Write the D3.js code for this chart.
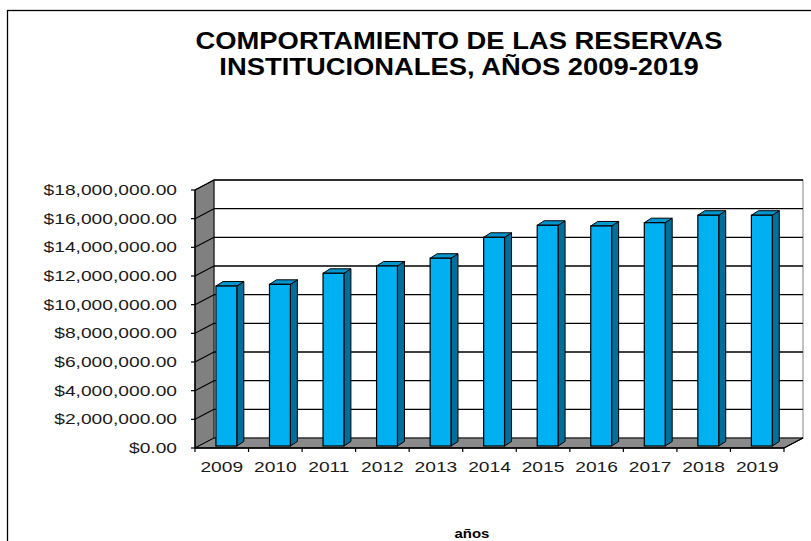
<!DOCTYPE html>
<html><head><meta charset="utf-8">
<script src="https://cdn.jsdelivr.net/npm/d3@7"></script>
<style>html,body{margin:0;padding:0;background:#fff;}svg{display:block;font-family:"Liberation Sans",Arial,sans-serif;}</style>
</head><body>
<script>
const years = ["2009","2010","2011","2012","2013","2014","2015","2016","2017","2018","2019"];
const reservas = [11160000, 11280000, 12050000, 12560000, 13100000, 14560000, 15400000, 15350000, 15580000, 16100000, 16100000];
const yTicks = [0, 2000000, 4000000, 6000000, 8000000, 10000000, 12000000, 14000000, 16000000, 18000000];
const titleLines = ["COMPORTAMIENTO DE LAS RESERVAS", "INSTITUCIONALES, AÑOS 2009-2019"];
const xTitle = "años";

const W = 811, H = 541;
const svg = d3.select("body").append("svg").attr("width", W).attr("height", H);
svg.append("rect").attr("width", W).attr("height", H).attr("fill", "#fff");
svg.append("rect").attr("x", 7.5).attr("y", 10.5).attr("width", 900).attr("height", 900)
  .attr("fill", "none").attr("stroke", "#000").attr("stroke-width", 1.3);

const x = d3.scaleBand().domain(years).range([195, 784]).padding(0);
const y = d3.scaleLinear().domain([0, 18000000]).range([448, 190]);
const DX = 19, DY = -10; // depth offset
const x0 = 195, x1 = 784;

// back wall
svg.append("rect").attr("x", x0 + DX).attr("y", y(18000000) + DY).attr("width", x1 - x0).attr("height", y(0) - y(18000000))
  .attr("fill", "#fff").attr("stroke", "#9a9a9a").attr("stroke-width", 1.2);
// left wall
svg.append("polygon").attr("points", [[x0, y(0)], [x0 + DX, y(0) + DY], [x0 + DX, y(18000000) + DY], [x0, y(18000000)]].map(p => p.join(",")).join(" "))
  .attr("fill", "#808080").attr("stroke", "#000").attr("stroke-width", 1);
// floor
svg.append("polygon").attr("points", [[x0, y(0)], [x1, y(0)], [x1 + DX, y(0) + DY], [x0 + DX, y(0) + DY]].map(p => p.join(",")).join(" "))
  .attr("fill", "#8a8a8a").attr("stroke", "#000").attr("stroke-width", 1);

// gridlines on back wall and left wall
yTicks.forEach(t => {
  if (t > 0) {
    svg.append("line").attr("x1", x0 + DX).attr("x2", x1 + DX).attr("y1", y(t) + DY).attr("y2", y(t) + DY)
      .attr("stroke", "#000").attr("stroke-width", 1.4);
    svg.append("line").attr("x1", x0).attr("x2", x0 + DX).attr("y1", y(t)).attr("y2", y(t) + DY)
      .attr("stroke", "#000").attr("stroke-width", 1.2);
  }
});

// axes
svg.append("line").attr("x1", x0).attr("x2", x0).attr("y1", y(18000000)).attr("y2", y(0)).attr("stroke", "#000").attr("stroke-width", 1.3);
svg.append("line").attr("x1", x0).attr("x2", x1).attr("y1", y(0)).attr("y2", y(0)).attr("stroke", "#000").attr("stroke-width", 1.3);
svg.append("line").attr("x1", x1).attr("x2", x1 + DX).attr("y1", y(0)).attr("y2", y(0) + DY).attr("stroke", "#000").attr("stroke-width", 1.2);
yTicks.forEach(t => {
  svg.append("line").attr("x1", x0 - 4).attr("x2", x0).attr("y1", y(t)).attr("y2", y(t)).attr("stroke", "#000").attr("stroke-width", 1.2);
});
years.concat(["end"]).forEach((c, i) => {
  const xx = i < years.length ? x(c) : x1;
  svg.append("line").attr("x1", xx).attr("x2", xx).attr("y1", y(0)).attr("y2", y(0) + 4).attr("stroke", "#000").attr("stroke-width", 1.2);
});

// bars
const bw = x.bandwidth();
const fx = DX * 0.2, fy = DY * 0.2;
const bdx = 7, bdy = -4.5;
const barW = bw * 0.39, barOff = bw * 0.32;
const bars = svg.append("g").selectAll("g").data(years.map((c, i) => ({c, v: reservas[i]}))).join("g");
bars.each(function(d) {
  const g = d3.select(this);
  const L = x(d.c) + barOff + fx, R = L + barW;
  const T = y(d.v) + fy, B = y(0) + fy;
  g.append("polygon").attr("points", [[R, B], [R + bdx, B + bdy], [R + bdx, T + bdy], [R, T]].map(p => p.join(",")).join(" "))
    .attr("fill", "#006E9A").attr("stroke", "#000").attr("stroke-width", 1).attr("stroke-linejoin", "round");
  g.append("polygon").attr("points", [[L, T], [R, T], [R + bdx, T + bdy], [L + bdx, T + bdy]].map(p => p.join(",")).join(" "))
    .attr("fill", "#0096CF").attr("stroke", "#000").attr("stroke-width", 1).attr("stroke-linejoin", "round");
  g.append("rect").attr("x", L).attr("y", T).attr("width", barW).attr("height", B - T)
    .attr("fill", "#00B0F0").attr("stroke", "#000").attr("stroke-width", 1.2);
});

// y labels
const fmt = d3.format(",.2f");
yTicks.forEach(t => {
  svg.append("text").attr("transform", `translate(177,${y(t) + 5}) scale(1.28,1)`)
    .attr("text-anchor", "end").attr("font-size", 15).attr("fill", "#1a1a1a").text("$" + fmt(t));
});
// x labels
years.forEach(c => {
  svg.append("text").attr("transform", `translate(${x(c) + bw / 2},472) scale(1.28,1)`)
    .attr("text-anchor", "middle").attr("font-size", 15).attr("fill", "#1a1a1a").text(c);
});
// title
titleLines.forEach((s, i) => {
  svg.append("text").attr("transform", `translate(459,${49 + i * 26}) scale(1.19,1)`)
    .attr("text-anchor", "middle").attr("font-size", 23).attr("font-weight", "bold").attr("fill", "#000").text(s);
});
svg.append("text").attr("transform", `translate(472,538) scale(1.15,1)`)
  .attr("text-anchor", "middle").attr("font-size", 13).attr("font-weight", "bold").attr("fill", "#000").text(xTitle);
</script>
</body></html>
